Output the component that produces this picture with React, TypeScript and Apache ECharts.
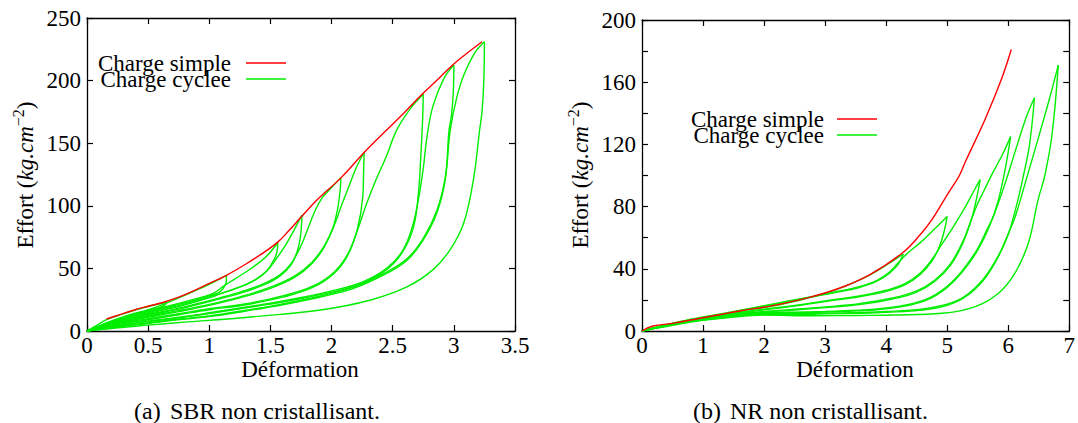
import { useEffect, useRef } from 'react';
import * as echarts from 'echarts';

type P = [number, number];

// ---------- (a) SBR non cristallisant ----------
const sbrSimple: P[] = [[0.16,9.6],[0.25,12.5],[0.38,16.6],[0.5,19.8],[0.62,22.8],[0.75,27],[0.88,32.5],[1.0,38],[1.14,44.5],[1.3,53.5],[1.45,63],[1.56,71],[1.65,80],[1.76,92],[1.88,104.6],[2.08,122.7],[2.27,143],[2.45,160.5],[2.6,175],[2.74,189],[2.87,201],[2.99,212.5],[3.11,222],[3.23,231]];

const sbrLoad1: P[] = [[0,0],[0.08,4.5],[0.16,9],[0.25,12.2],[0.38,16.4],[0.5,19.6],[0.65,23]];
const sbrUnload1: P[] = [[0.65,23],[0.645,21.5],[0.6,19],[0.5,16.5],[0.35,12.5],[0.2,7.5],[0.08,3],[0,0]];
const sbrLoad2: P[] = [[0,0],[0.08,3.4],[0.2,8],[0.35,13],[0.5,17],[0.62,21],[0.75,26.5],[0.9,32.8],[1.02,38.3],[1.14,44.5]];
const sbrUnload2: P[] = [[1.14,44.5],[1.14,40],[1.12,35],[1.09,31.5],[1.03,29],[0.9,25],[0.7,20],[0.5,15.5],[0.3,10],[0.12,4],[0,0]];
const sbrLoad3: P[] = [[0,0],[0.12,4.5],[0.3,10.5],[0.5,16],[0.7,20.8],[0.9,26],[1.03,30],[1.12,36],[1.2,41],[1.35,50.5],[1.47,60],[1.56,70.5]];
const sbrUnload3: P[] = [[1.56,70.5],[1.555,64],[1.53,57],[1.47,48],[1.38,41],[1.25,35],[1.1,30],[1.0,26.5],[0.75,19.5],[0.5,14],[0.3,9],[0.12,3.5],[0,0]];
const sbrLoad4: P[] = [[0,0],[0.12,4],[0.3,9.8],[0.5,14.7],[0.75,20.3],[1.0,27.3],[1.2,33.5],[1.35,39.5],[1.47,48],[1.55,58],[1.62,68],[1.69,80],[1.757,92.5]];
const sbrUnload4: P[] = [[1.757,92.5],[1.755,86],[1.745,75],[1.72,64],[1.67,53],[1.58,44],[1.45,37],[1.25,30],[1.0,23.5],[0.75,17.5],[0.5,12.5],[0.3,8],[0.12,3],[0,0]];
const sbrLoad5: P[] = [[0,0],[0.12,3.5],[0.3,8.7],[0.5,13.2],[0.75,18.3],[1.0,24.3],[1.25,31],[1.45,38],[1.58,45],[1.67,54],[1.74,66],[1.8,80],[1.86,95],[1.92,106],[2.0,114.5],[2.076,122.5]];
const sbrUnload5: P[] = [[2.076,122.5],[2.07,112],[2.05,98],[2.01,82],[1.94,67],[1.84,54],[1.7,43],[1.5,34],[1.25,26.5],[1.0,20.5],[0.75,15.5],[0.5,11],[0.3,7],[0.12,2.8],[0,0]];
const sbrLoad6: P[] = [[0,0],[0.12,3.2],[0.3,7.6],[0.5,11.8],[0.75,16.3],[1.0,21.3],[1.25,27.3],[1.5,35],[1.7,44],[1.84,55],[1.94,68],[2.02,84],[2.08,100],[2.14,115],[2.2,130],[2.267,143]];
const sbrUnload6: P[] = [[2.267,143],[2.262,128],[2.255,107],[2.21,81],[2.13,60],[2.02,46],[1.85,35],[1.6,27],[1.3,21],[1.0,17],[0.75,13],[0.5,9],[0.3,6],[0.12,2.5],[0,0]];
const sbrLoad7: P[] = [[0,0],[0.12,2.8],[0.3,6.6],[0.5,9.8],[0.75,13.8],[1.0,17.8],[1.3,21.8],[1.6,28],[1.85,36],[2.02,47],[2.13,61],[2.21,80],[2.28,100],[2.36,120],[2.45,140],[2.53,160],[2.64,177],[2.75,189]];
const sbrUnload7: P[] = [[2.75,189],[2.745,170],[2.73,140],[2.71,110],[2.67,83],[2.58,63],[2.45,49],[2.25,38],[2.0,31],[1.7,25],[1.4,20],[1.0,14],[0.75,10.5],[0.5,7.5],[0.25,4],[0,0]];
const sbrLoad8: P[] = [[0,0],[0.25,4.3],[0.5,7.9],[0.75,11],[1.0,14.6],[1.4,20.7],[1.7,25.8],[2.0,32],[2.25,39],[2.45,50],[2.58,64],[2.66,83],[2.71,105],[2.75,130],[2.78,155],[2.83,180],[2.92,202],[3.0,212.5]];
const sbrUnload8: P[] = [[3.0,212.5],[2.995,190],[2.98,172],[2.96,160],[2.93,121],[2.86,94],[2.75,72.7],[2.62,56.7],[2.45,46],[2.18,34],[1.9,27],[1.6,21],[1.3,16],[1.0,11.5],[0.7,8.5],[0.5,6],[0.25,3.2],[0,0]];
const sbrLoad9: P[] = [[0,0],[0.25,3.5],[0.5,6.4],[0.7,9],[1.0,12],[1.3,16.6],[1.6,21.7],[1.9,27.8],[2.18,35],[2.45,47],[2.62,58],[2.75,74],[2.86,96],[2.93,123],[2.97,160],[3.02,185],[3.08,204],[3.17,222],[3.25,231]];
const sbrUnload9: P[] = [[3.25,231],[3.245,200],[3.23,175],[3.21,160],[3.16,121],[3.08,86],[2.97,65],[2.83,49],[2.62,35.4],[2.32,24.8],[1.91,16.8],[1.36,11.4],[1.0,8.5],[0.82,7.3],[0.5,4.7],[0.25,2.6],[0,0]];

const sbrCycles: P[][] = [sbrLoad1, sbrUnload1, sbrLoad2, sbrUnload2, sbrLoad3, sbrUnload3, sbrLoad4, sbrUnload4, sbrLoad5, sbrUnload5, sbrLoad6, sbrUnload6, sbrLoad7, sbrUnload7, sbrLoad8, sbrUnload8, sbrLoad9, sbrUnload9];

// ---------- (b) NR non cristallisant ----------
const nrSimple: P[] = [[0,0],[0.18,3.2],[0.5,4.9],[0.95,8.2],[1.6,12.9],[2.14,16.3],[2.69,21.1],[3.23,27.5],[3.72,36],[4.26,50],[4.56,62],[4.75,71.6],[5.02,88.8],[5.2,100],[5.3,109],[5.62,136],[5.89,162],[6.05,181]];

const nrLoad1: P[] = [[0,0],[0.3,2.5],[0.6,5],[1.0,8.2],[1.6,12.7],[2.14,16.1],[2.69,20.9],[3.23,27.3],[3.72,35.8],[4.0,42.3],[4.28,49.5]];
const nrUnload1: P[] = [[4.28,49.5],[4.2,43],[4.05,37],[3.85,32],[3.56,28],[3.2,25],[2.8,22],[2.4,19],[2.0,16],[1.4,11.5],[0.8,7.3],[0.3,3],[0,0]];
const nrLoad2: P[] = [[0,0],[0.3,3.1],[0.8,7.6],[1.4,11.8],[2.0,16.3],[2.4,19.3],[2.8,22.3],[3.2,25.4],[3.56,28.5],[3.85,32.6],[4.05,37.8],[4.2,44],[4.35,50],[4.55,56.5],[4.75,64],[5.0,73.7]];
const nrUnload2: P[] = [[5.0,73.7],[4.95,64],[4.87,54],[4.75,45],[4.55,36],[4.3,29.5],[4.0,25.5],[3.56,22],[3.0,19],[2.5,16],[2.0,13.6],[1.4,10.5],[0.8,6.9],[0.3,2.8],[0,0]];
const nrLoad3: P[] = [[0,0],[0.3,2.9],[0.8,7.2],[1.4,10.8],[2.0,14],[2.5,16.4],[3.0,19.4],[3.56,22.5],[4.0,26.2],[4.3,30.3],[4.55,37],[4.75,46],[4.9,55],[5.1,67],[5.3,80],[5.45,91],[5.54,97.4]];
const nrUnload3: P[] = [[5.54,97.4],[5.48,85],[5.4,72],[5.25,56],[5.05,42],[4.8,32],[4.5,25],[4.1,20.5],[3.56,17],[3.0,15],[2.5,13.5],[2.0,12.2],[1.4,10],[0.8,6.6],[0.3,2.7],[0,0]];
const nrLoad4: P[] = [[0,0],[0.3,2.8],[0.8,6.9],[1.4,10.3],[2.0,12.6],[2.5,14],[3.0,15.5],[3.56,17.6],[4.1,21.2],[4.5,25.8],[4.8,32.8],[5.05,43],[5.25,57],[5.4,72],[5.5,82],[5.6,90],[5.75,102],[5.9,113],[6.04,125]];
const nrUnload4: P[] = [[6.04,125],[5.95,104],[5.84,84.5],[5.7,68],[5.5,52],[5.25,38],[5.0,28],[4.7,20.5],[4.3,16],[3.8,13.5],[3.56,13],[3.0,12.2],[2.5,11.7],[2.0,11.4],[1.4,9.5],[0.8,6.3],[0.3,2.5],[0,0]];
const nrLoad5: P[] = [[0,0],[0.3,2.6],[0.8,6.6],[1.4,9.9],[2.0,11.8],[2.5,12.1],[3.0,12.6],[3.56,13.4],[3.8,14],[4.3,16.6],[4.7,21.2],[5.0,28.8],[5.25,39],[5.5,53],[5.65,65],[5.76,74],[5.95,95],[6.15,120],[6.3,138],[6.43,150]];
const nrUnload5: P[] = [[6.43,150],[6.35,120],[6.25,100],[6.16,84.5],[6.0,62],[5.84,48],[5.6,33],[5.3,22],[5.0,16.5],[4.6,13.5],[4.0,12],[3.56,11.4],[3.0,11],[2.4,10.6],[2.0,10.6],[1.4,9],[0.8,6],[0.3,2.5],[0,0]];
const nrLoad6: P[] = [[0,0],[0.3,2.6],[0.8,6.3],[1.4,9.4],[2.0,11],[2.4,11.1],[3.0,11.5],[3.56,11.9],[4.0,12.5],[4.6,14.2],[5.0,17.2],[5.3,22.6],[5.6,33.8],[5.84,48.5],[6.0,62.5],[6.11,73],[6.3,98],[6.5,125],[6.68,150],[6.82,171]];
const nrUnload6: P[] = [[6.82,171],[6.72,127],[6.6,100],[6.49,84.5],[6.33,56.6],[6.11,37.2],[5.84,24.3],[5.46,15.7],[4.92,11.4],[4.1,10.3],[3.56,10],[2.8,9.8],[2.0,10.2],[1.4,8.5],[0.8,5.8],[0.3,2.2],[0,0]];

const nrCycles: P[][] = [nrLoad1, nrUnload1, nrLoad2, nrUnload2, nrLoad3, nrUnload3, nrLoad4, nrUnload4, nrLoad5, nrUnload5, nrLoad6, nrUnload6];

const legendNames = ['Charge simple', 'Charge cyclee'];
const captions = [['(a)', 'SBR non cristallisant.'], ['(b)', 'NR non cristallisant.']];
const xTitle = 'Déformation';

const FONT = 'Liberation Serif';
const RED = '#ff0000';
const GREEN = '#00ee00';
const FS = 23;

function axisPair(kind: 'x' | 'y', gridIndex: number, max: number, interval: number, fmt: (v: number) => string) {
  const base = {
    type: 'value',
    gridIndex,
    min: 0,
    max,
    interval,
    splitLine: { show: false },
    axisLine: { show: true, onZero: false, lineStyle: { color: '#000', width: 1.3 } },
    axisTick: { show: true, inside: true, length: 6, lineStyle: { color: '#000', width: 1.2 } },
  };
  const main = {
    ...base,
    position: kind === 'x' ? 'bottom' : 'left',
    axisLabel: {
      show: true,
      color: '#000',
      fontFamily: FONT,
      fontSize: FS,
      margin: kind === 'x' ? 3 : 6,
      showMinLabel: true,
      showMaxLabel: true,
      formatter: fmt,
    },
  };
  const mirror = {
    ...base,
    position: kind === 'x' ? 'top' : 'right',
    axisLabel: { show: false },
  };
  return [main, mirror];
}

function line(data: P[], color: string, idx: number, z: number) {
  return {
    type: 'line',
    data,
    xAxisIndex: idx,
    yAxisIndex: idx,
    symbol: 'none',
    showSymbol: false,
    smooth: 0.4,
    silent: true,
    z,
    lineStyle: { color, width: 1.4 },
  };
}

function yTitle(x: number, y: number) {
  return {
    type: 'text',
    x,
    y,
    rotation: Math.PI / 2,
    style: {
      text: 'Effort ({i|kg.cm}{s|−2})',
      fontFamily: FONT,
      fontSize: FS,
      fill: '#000',
      align: 'center',
      verticalAlign: 'middle',
      rich: {
        i: { fontFamily: FONT, fontSize: FS, fontStyle: 'italic', fill: '#000', lineHeight: 30 },
        s: { fontFamily: FONT, fontSize: 16, fill: '#000', verticalAlign: 'top', lineHeight: 16 },
      },
      lineHeight: 30,
    },
  };
}

function text(x: number, y: number, t: string, align: string, size = FS) {
  return {
    type: 'text',
    x,
    y,
    style: { text: t, fontFamily: FONT, fontSize: size, fill: '#000', align, verticalAlign: 'middle' },
  };
}

function legend(textRight: number, lineX1: number, lineX2: number, y1: number, y2: number) {
  return [
    text(textRight, y1, legendNames[0], 'right'),
    text(textRight, y2, legendNames[1], 'right'),
    { type: 'line', shape: { x1: lineX1, y1, x2: lineX2, y2: y1 }, style: { stroke: RED, lineWidth: 1.4 } },
    { type: 'line', shape: { x1: lineX1, y1: y2, x2: lineX2, y2 }, style: { stroke: GREEN, lineWidth: 1.4 } },
  ];
}

export default function App() {
  const ref = useRef<HTMLDivElement>(null);
  useEffect(() => {
    if (!ref.current) return;
    const chart = echarts.init(ref.current, undefined, { renderer: 'svg' });
    const [lx, lx2] = axisPair('x', 0, 3.5, 0.5, (v) => String(v));
    const [rx, rx2] = axisPair('x', 1, 7, 1, (v) => String(v));
    const [ly, ly2] = axisPair('y', 0, 250, 50, (v) => String(v));
    const [ry, ry2] = axisPair('y', 1, 200, 20, (v) => (v % 40 === 0 ? String(v) : ''));
    const series: any[] = [];
    sbrCycles.forEach((c) => series.push(line(c, GREEN, 0, 2)));
    series.push(line(sbrSimple, RED, 0, 3));
    nrCycles.forEach((c) => series.push(line(c, GREEN, 2, 2)));
    series.push(line(nrSimple, RED, 2, 3));
    const option: any = {
      animation: false,
      grid: [
        { left: 87, top: 18, width: 428, height: 313, containLabel: false },
        { left: 642, top: 20, width: 429, height: 311, containLabel: false },
      ],
      xAxis: [lx, lx2, rx, rx2],
      yAxis: [ly, ly2, ry, ry2],
      series,
      graphic: [
        yTitle(25, 175),
        yTitle(580, 175),
        text(300, 369, xTitle, 'center'),
        text(855, 369, xTitle, 'center'),
        ...legend(231, 246, 286, 63, 79),
        ...legend(824, 837, 877, 119, 135),
        text(134, 411, captions[0][0], 'left', 24),
        text(170, 411, captions[0][1], 'left', 24),
        text(693, 411, captions[1][0], 'left', 24),
        text(730, 411, captions[1][1], 'left', 24),
      ],
    };
    chart.setOption(option);
    return () => chart.dispose();
  }, []);
  return (
    <div
      ref={ref}
      style={{ position: 'absolute', left: 0, top: 0, width: 1078, height: 423 }}
    />
  );
}
